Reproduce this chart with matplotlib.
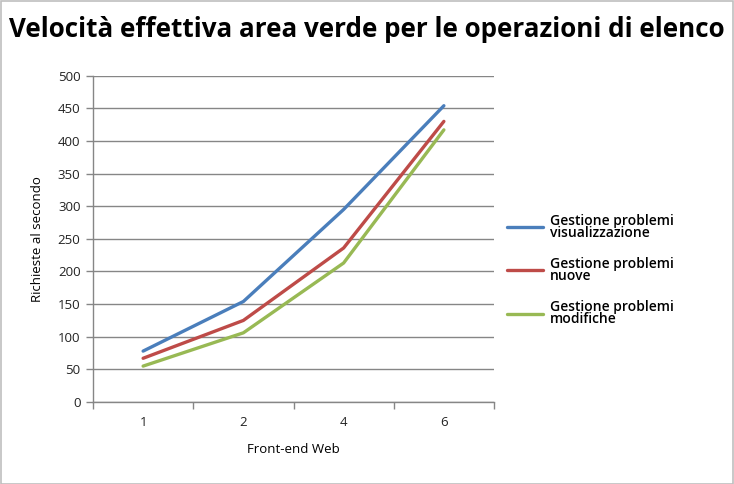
import matplotlib
matplotlib.use("Agg")
import matplotlib.pyplot as plt
from matplotlib.patches import Rectangle

categories = ["1", "2", "4", "6"]
series_names = ["Gestione problemi\nvisualizzazione", "Gestione problemi\nnuove", "Gestione problemi\nmodifiche"]
visualizzazione = [78, 154, 295, 454]
nuove = [67, 125, 236, 430]
modifiche = [55, 106, 213, 417]
colors = ["#4A7EBB", "#BE4B48", "#98B954"]
y_ticks = [0, 50, 100, 150, 200, 250, 300, 350, 400, 450, 500]

plt.rcParams['font.family'] = ['Open Sans', 'DejaVu Sans']

fig = plt.figure(figsize=(7.34, 4.84), dpi=100)
fig.patches.append(Rectangle((0.001, 0.001), 0.997, 0.997, transform=fig.transFigure,
                             fill=False, edgecolor="#BFBFBF", linewidth=1.2))
ax = fig.add_axes([93/734, 1-402/484, (494-93)/734, (402-75.7)/484])

x = list(range(len(categories)))
for vals, name, c in zip([visualizzazione, nuove, modifiche], series_names, colors):
    ax.plot(x, vals, color=c, linewidth=2.4, label=name, solid_capstyle='round')

ax.set_xlim(-0.5, len(categories) - 0.5)
ax.set_ylim(0, 500)
ax.set_yticks(y_ticks)
ax.set_yticklabels([str(v) for v in y_ticks], fontsize=9.5, color="#222222")
ax.set_xticks(x)
ax.set_xticklabels(categories, fontsize=9.5, color="#222222")
ax.set_xticks([i - 0.5 for i in range(len(categories) + 1)], minor=True)
ax.tick_params(axis='x', which='major', length=0, pad=10)
ax.tick_params(axis='x', which='minor', length=5, color="#868686", width=1)
ax.tick_params(axis='y', length=5, color="#868686", width=1, pad=4)
ax.grid(axis='y', color="#868686", linewidth=1)
ax.set_axisbelow(True)
for s in ['top', 'right']:
    ax.spines[s].set_visible(False)
for s in ['left', 'bottom']:
    ax.spines[s].set_color("#868686")
    ax.spines[s].set_linewidth(1)

ax.set_xlabel("Front-end Web", fontsize=9.5, labelpad=10)
ax.set_ylabel("Richieste al secondo", fontsize=9.5, labelpad=10)

fig.text(0.5, 0.94, "Velocità effettiva area verde per le operazioni di elenco",
         ha='center', va='center', fontsize=18.7, fontweight='bold')

leg = ax.legend(loc='center left', bbox_to_anchor=(1.0, 0.405), frameon=False,
                fontsize=10, handlelength=2.6, labelspacing=1.25, handletextpad=0.5)
for t in leg.get_texts():
    t.set_linespacing(0.8)
    t.set_fontweight('semibold')

fig.savefig("out.png", dpi=100)
